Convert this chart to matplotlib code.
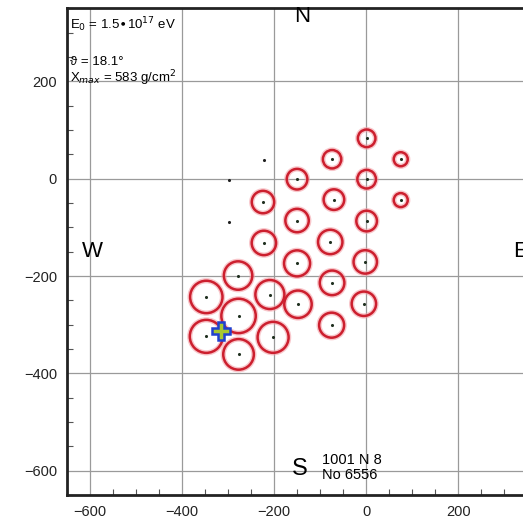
import matplotlib
matplotlib.use("Agg")
import matplotlib.pyplot as plt
import numpy as np

plt.rcParams['font.family'] = ['Liberation Sans', 'DejaVu Sans']

# Detector stations that registered a signal: position (m) and signal strength
station_x = [1, -74, 75, -150, 1, -224, -70, 75, -150, 1,
             -222, -78, -2, -150, -278, -74, -347, -209, -148, -5,
             -277, -75, -347, -202, -277]
station_y = [83, 40, 40, -1, -1, -48, -43, -44, -86, -87,
             -132, -130, -171, -174, -199, -214, -243, -238, -258, -257,
             -282, -301, -324, -326, -361]
signal = [8.8, 9.2, 7.0, 10.3, 9.3, 11.2, 10.3, 7.0, 11.7, 10.3,
          12.2, 12.2, 11.7, 13.0, 14.2, 12.3, 16.2, 14.5, 13.7, 12.2,
          17.2, 12.5, 16.5, 15.5, 15.3]

# Stations without a signal
empty_x = [-222, -297, -297]
empty_y = [38, -3, -88]

# Reconstructed shower core
core_x = [-316]
core_y = [-313]

x_ticks = [-600, -400, -200, 0, 200]
y_ticks = [-600, -400, -200, 0, 200]

fig = plt.figure(figsize=(5.23, 5.21), dpi=100)
ax = fig.add_axes([0.1275, 0.0499, 1.1453, 0.934])
ax.set_xlim(-650, 650)
ax.set_ylim(-650, 350)

ax.set_xticks(x_ticks)
ax.set_yticks(y_ticks)
ax.set_xticks(np.arange(-650, 651, 50), minor=True)
ax.set_yticks(np.arange(-650, 351, 50), minor=True)
ax.tick_params(which='both', direction='in', top=False, right=False,
               labelsize=10.5, colors='#222222')
ax.tick_params(which='major', length=0, pad=7)
ax.tick_params(which='minor', length=4, width=0.8, color='#555555')
# grid lines every 200 m, including the one beyond the visible labels
for gx in (-600, -400, -200, 0, 200, 400, 600):
    ax.axvline(gx, color='#9a9a9a', lw=0.9, zorder=0)
for gy in y_ticks:
    ax.axhline(gy, color='#9a9a9a', lw=0.9, zorder=0)
for side in ('left', 'bottom', 'top'):
    ax.spines[side].set_linewidth(2.0)
    ax.spines[side].set_color('#222222')

# Marker radius in points from the station signal
radius_pt = np.array(signal) * 0.72
sizes = (2 * radius_pt) ** 2

ax.scatter(station_x, station_y, s=sizes, facecolors='none',
           edgecolors='#f4a0a8', linewidths=3.8, alpha=0.6, zorder=3)
ax.scatter(station_x, station_y, s=sizes, facecolors='none',
           edgecolors='#cc1f2e', linewidths=1.8, zorder=4)
ax.scatter(station_x, station_y, s=5, color='#203020', zorder=5, lw=0)
ax.scatter(empty_x, empty_y, s=5, color='#202020', zorder=5, lw=0)

ax.plot(core_x, core_y, marker='P', markersize=13, mfc='#a8c830',
        mec='#2040d0', mew=1.8, ls='none', zorder=6)

# Compass labels
ax.text(-139, 334, 'N', fontsize=16, ha='center', va='center')
ax.text(-595, -149, 'W', fontsize=16, ha='center', va='center')
ax.text(320, -149, 'E', fontsize=16, ha='left', va='center')
ax.text(-145, -597, 'S', fontsize=17, ha='center', va='center')
ax.text(-95, -579, '1001 N 8', fontsize=10.5, ha='left', va='center')
ax.text(-95, -608, 'No 6556', fontsize=10.5, ha='left', va='center')

# Shower parameters
ax.text(-642, 317, r'E$_0$ = 1.5$\bullet$10$^{17}$ eV', fontsize=9.5,
        ha='left', va='center')
ax.text(-642, 239, '\u03d1 = 18.1\u00b0', fontsize=9.5, ha='left', va='center')
ax.text(-642, 207, r'X$_{max}$ = 583 g/cm$^2$', fontsize=9.5,
        ha='left', va='center')

fig.savefig('out.png', dpi=100)
